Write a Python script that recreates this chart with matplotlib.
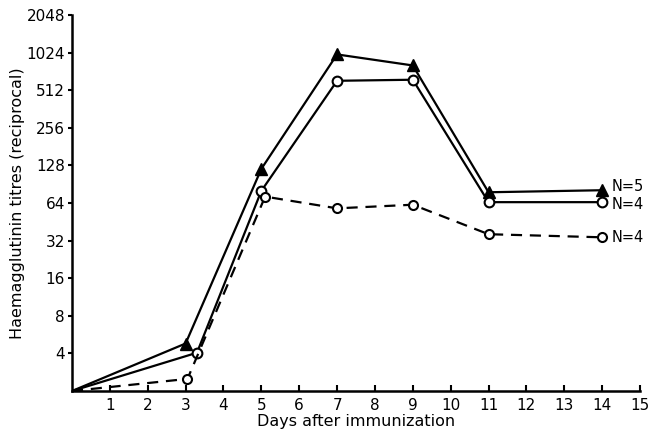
import matplotlib
matplotlib.use("Agg")
import matplotlib.pyplot as plt
from matplotlib.ticker import FixedLocator, NullLocator

# Data
days_tri = [0, 3, 5, 7, 9, 11, 14]
titre_tri = [2, 4.8, 120, 990, 808, 78, 81]

days_circ = [0, 3.3, 5, 7, 9, 11, 14]
titre_circ = [2, 4.05, 80, 609, 621, 65, 65]

days_dash = [0, 3.05, 5.1, 7, 9, 11, 14]
titre_dash = [2, 2.5, 72, 58, 62, 36, 34]

xticks = list(range(1, 16))
yticks = [4, 8, 16, 32, 64, 128, 256, 512, 1024, 2048]
end_labels = ["N=5", "N=4", "N=4"]

plt.rcParams['font.family'] = ['DejaVu Sans']

fig = plt.figure(figsize=(6.51, 4.29), dpi=100)
ax = fig.add_axes([72/651, 1-391/429, (640-72)/651, (391-15)/429])

ax.plot(days_tri, titre_tri, color='black', lw=1.6, marker='^', ms=9,
        mfc='black', mec='black', markevery=list(range(1, len(days_tri))), zorder=3)
ax.plot(days_circ, titre_circ, color='black', lw=1.6, marker='o', ms=7,
        mfc='white', mec='black', mew=1.5, markevery=list(range(1, len(days_circ))), zorder=4)
ax.plot(days_dash, titre_dash, color='black', lw=1.6, ls=(0, (5, 3.5)), marker='o', ms=6.5,
        mfc='white', mec='black', mew=1.5, markevery=list(range(1, len(days_dash))), zorder=4)

ax.set_yscale('log', base=2)
ax.set_ylim(2, 2048)
ax.set_xlim(0, 15)

ax.yaxis.set_major_locator(FixedLocator(yticks))
ax.yaxis.set_minor_locator(NullLocator())
ax.set_yticklabels([str(v) for v in yticks])
ax.set_xticks(xticks)
ax.set_xticklabels([str(v) for v in xticks])

for s in ['top', 'right']:
    ax.spines[s].set_visible(False)
for s in ['left', 'bottom']:
    ax.spines[s].set_linewidth(1.8)

ax.tick_params(axis='x', direction='in', length=4, width=1.5, labelsize=11, pad=5)
ax.tick_params(axis='y', direction='out', length=3, width=1.5, labelsize=11, pad=2)

ax.set_xlabel("Days after immunization", fontsize=11.5, labelpad=1)
ax.set_ylabel("Haemagglutinin titres (reciprocal)", fontsize=11.5, labelpad=1)

ends = [titre_tri[-1], titre_circ[-1], titre_dash[-1]]
offsets = [2.5, -2, 0]
for lab, v, dy in zip(end_labels, ends, offsets):
    ax.annotate(lab, xy=(14, v), xytext=(7, dy), textcoords='offset points',
                fontsize=10.5, va='center', ha='left')

fig.savefig("out.png", dpi=100)
